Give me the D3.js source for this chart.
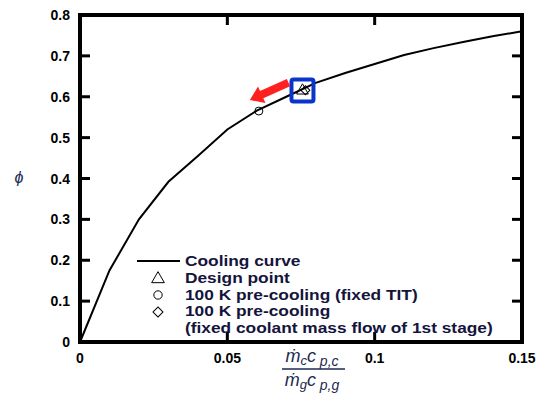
<!DOCTYPE html>
<html>
<head>
<meta charset="utf-8">
<script src="https://cdn.jsdelivr.net/npm/d3@7"></script>
<style>
  body { margin: 0; background: #fff; }
  svg text { font-family: "Liberation Sans", Arial, sans-serif; }
</style>
</head>
<body>
<svg id="chart" width="547" height="400"></svg>
<script>
// cooling curve
const curveX = [0, 0.01, 0.02, 0.03, 0.04, 0.05, 0.06, 0.07, 0.08, 0.09, 0.10, 0.11, 0.12, 0.13, 0.14, 0.15];
const curveY = [0, 0.175, 0.30, 0.392, 0.455, 0.52, 0.566, 0.600, 0.634, 0.658, 0.680, 0.702, 0.719, 0.734, 0.748, 0.76];

const designPoint = [0.0755, 0.615];
const precoolTIT = [0.0607, 0.565];
const precoolFlow = [0.0765, 0.616];

const xTicks = [0, 0.05, 0.1, 0.15];
const xTickLabels = ['0', '0.05', '0.1', '0.15'];
const yTicks = [0, 0.1, 0.2, 0.3, 0.4, 0.5, 0.6, 0.7, 0.8];
const yTickLabels = ['0', '0.1', '0.2', '0.3', '0.4', '0.5', '0.6', '0.7', '0.8'];

const legendLabels = ['Cooling curve', 'Design point', '100 K pre-cooling (fixed TIT)', '100 K pre-cooling', '(fixed coolant mass flow of 1st stage)'];

const svg = d3.select('#chart');
const mLeft = 80, mRight = 522, mTop = 15, mBottom = 342;

const x = d3.scaleLinear().domain([0, 0.15]).range([mLeft, mRight]);
const y = d3.scaleLinear().domain([0, 0.8]).range([mBottom, mTop]);

// frame ticks (inward, mirrored)
const tickLen = 10;
const g = svg.append('g');
yTicks.slice(1, -1).forEach((v) => {
  g.append('line').attr('x1', mLeft).attr('x2', mLeft + tickLen).attr('y1', y(v)).attr('y2', y(v))
    .attr('stroke', '#000').attr('stroke-width', 3);
  g.append('line').attr('x1', mRight).attr('x2', mRight - tickLen).attr('y1', y(v)).attr('y2', y(v))
    .attr('stroke', '#000').attr('stroke-width', 3);
});
xTicks.slice(1, -1).forEach((v) => {
  g.append('line').attr('x1', x(v)).attr('x2', x(v)).attr('y1', mBottom).attr('y2', mBottom - tickLen)
    .attr('stroke', '#000').attr('stroke-width', 3);
  g.append('line').attr('x1', x(v)).attr('x2', x(v)).attr('y1', mTop).attr('y2', mTop + tickLen)
    .attr('stroke', '#000').attr('stroke-width', 3);
});

// curve
const line = d3.line().x((d) => x(d[0])).y((d) => y(d[1]));
svg.append('path')
  .datum(curveX.map((v, i) => [v, curveY[i]]))
  .attr('d', line)
  .attr('fill', 'none')
  .attr('stroke', '#000')
  .attr('stroke-width', 2);

// frame
svg.append('rect')
  .attr('x', mLeft).attr('y', mTop)
  .attr('width', mRight - mLeft).attr('height', mBottom - mTop)
  .attr('fill', 'none').attr('stroke', '#000').attr('stroke-width', 4);

// tick labels
svg.selectAll('.ylab').data(yTicks).enter().append('text')
  .attr('x', mLeft - 10).attr('y', (d) => y(d) + 5)
  .attr('text-anchor', 'end').attr('font-size', 14).attr('font-weight', 'bold')
  .text((d, i) => yTickLabels[i]);
svg.selectAll('.xlab').data(xTicks).enter().append('text')
  .attr('x', (d) => x(d)).attr('y', mBottom + 21)
  .attr('text-anchor', 'middle').attr('font-size', 14).attr('font-weight', 'bold')
  .text((d, i) => xTickLabels[i]);

// markers (diamond = square turned 45deg)
const sym = (type, size) => d3.symbol().type(type).size(size)();
function marker(type, p, size, rot) {
  svg.append('path').attr('d', sym(type, size))
    .attr('transform', `translate(${x(p[0])},${y(p[1])}) rotate(${rot || 0})`)
    .attr('fill', 'none').attr('stroke', '#000').attr('stroke-width', 1);
}
marker(d3.symbolTriangle, designPoint, 60);
marker(d3.symbolCircle, precoolTIT, 50);
marker(d3.symbolSquare, precoolFlow, 40, 45);

// blue highlight box
svg.append('rect')
  .attr('x', x(designPoint[0]) - 11).attr('y', y(designPoint[1]) - 11)
  .attr('width', 22).attr('height', 22).attr('rx', 2)
  .attr('fill', 'none').attr('stroke', '#0a35c8').attr('stroke-width', 4);

// red arrow
const ax0 = x(designPoint[0]) - 14, ay0 = y(designPoint[1]) - 8;
const ax1 = x(precoolTIT[0]) - 9, ay1 = y(precoolTIT[1]) - 11;
const ang = Math.atan2(ay1 - ay0, ax1 - ax0);
const headL = 13, headW = 9, shaftW = 4;
const bx = ax1 - headL * Math.cos(ang), by = ay1 - headL * Math.sin(ang);
const nx = -Math.sin(ang), ny = Math.cos(ang);
svg.append('path')
  .attr('d', `M${ax0 + nx * shaftW},${ay0 + ny * shaftW} L${bx + nx * shaftW},${by + ny * shaftW} L${bx + nx * headW},${by + ny * headW} L${ax1},${ay1} L${bx - nx * headW},${by - ny * headW} L${bx - nx * shaftW},${by - ny * shaftW} L${ax0 - nx * shaftW},${ay0 - ny * shaftW} Z`)
  .attr('fill', '#ff2020');

// legend
const lx = 185, ly0 = 266, lstep = 16.8;
const legendColor = '#14143c';
svg.append('line').attr('x1', 137).attr('x2', 180).attr('y1', 261).attr('y2', 261)
  .attr('stroke', '#000').attr('stroke-width', 2);
svg.append('path').attr('d', sym(d3.symbolTriangle, 70)).attr('transform', 'translate(158,279)')
  .attr('fill', '#fff').attr('stroke', '#000');
svg.append('path').attr('d', sym(d3.symbolCircle, 55)).attr('transform', 'translate(158,295)')
  .attr('fill', '#fff').attr('stroke', '#000');
svg.append('path').attr('d', sym(d3.symbolSquare, 50)).attr('transform', 'translate(158,312) rotate(45)')
  .attr('fill', '#fff').attr('stroke', '#000');
const legTexts = legendLabels.map((t, i) =>
  svg.append('text').attr('x', 0).attr('y', 0)
    .attr('font-size', 14).attr('font-weight', 'bold').attr('fill', legendColor)
    .text(t));
// the original legend text is horizontally stretched
const widest = legTexts[4].node().getComputedTextLength();
const sx = 308 / widest;
legTexts.forEach((t, i) => t.attr('transform', `translate(${lx},${ly0 + i * lstep}) scale(${sx},1)`));

// axis titles
svg.append('text').attr('x', 19).attr('y', 183)
  .attr('font-family', '"DejaVu Serif", serif').attr('font-style', 'italic')
  .attr('font-size', 16).attr('fill', '#1c2a50').attr('text-anchor', 'middle').text('\u03d5');

const fx = 312;
const frac = svg.append('g').attr('font-family', '"Liberation Serif", serif')
  .attr('font-style', 'italic').attr('fill', '#1c2a50');
const num = frac.append('text').attr('x', fx).attr('y', 362).attr('text-anchor', 'middle').attr('font-size', 18);
num.append('tspan').text('ṁ');
num.append('tspan').attr('font-size', 13).attr('dy', 3).text('c');
num.append('tspan').attr('dy', -3).text('c');
num.append('tspan').attr('font-size', 14).attr('dy', 4).text(' p,c');
frac.append('line').attr('x1', 282).attr('x2', 345).attr('y1', 369).attr('y2', 369)
  .attr('stroke', '#1c2a50').attr('stroke-width', 1.3);
const den = frac.append('text').attr('x', fx).attr('y', 386).attr('text-anchor', 'middle').attr('font-size', 18);
den.append('tspan').text('ṁ');
den.append('tspan').attr('font-size', 13).attr('dy', 3).text('g');
den.append('tspan').attr('dy', -3).text('c');
den.append('tspan').attr('font-size', 14).attr('dy', 4).text(' p,g');
</script>
</body>
</html>
